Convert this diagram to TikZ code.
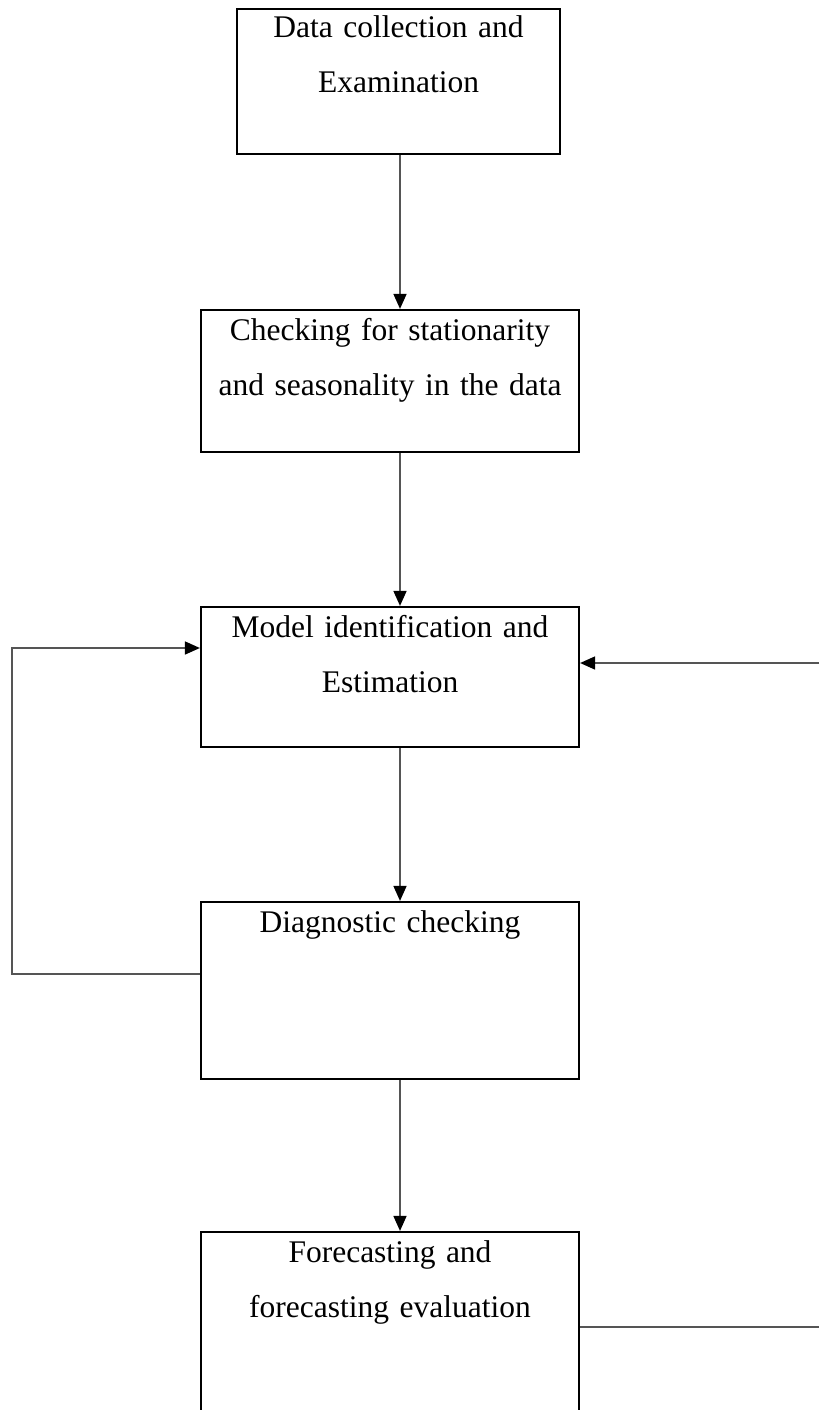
\documentclass[tikz,border=0pt]{standalone}
\usepackage{fontspec}
\setmainfont{Liberation Serif}
\usetikzlibrary{arrows.meta}
\definecolor{conngray}{RGB}{85,85,85}
\begin{document}
\begin{tikzpicture}[x=1pt,y=-1pt,
  procbox/.style={draw=black,line width=2.2pt,rectangle,inner sep=0pt},
  txt/.style={anchor=base,text width=370pt,align=center,inner sep=0pt,
    font=\fontsize{31.5}{55}\selectfont},
  conn/.style={draw=conngray,line width=1.6pt},
  arr/.style={-{Triangle[length=15pt,width=13pt,black]}}]
\useasboundingbox (0,0) rectangle (819,1410);
\clip (0,0) rectangle (819,1410);
% boxes
\node[procbox,minimum width=323pt,minimum height=145pt] (b1) at (398.5,81.5) {};
\node[procbox,minimum width=378pt,minimum height=142pt] (b2) at (390,381) {};
\node[procbox,minimum width=378pt,minimum height=140pt] (b3) at (390,677) {};
\node[procbox,minimum width=378pt,minimum height=177pt] (b4) at (390,990.5) {};
\node[procbox,minimum width=378pt,minimum height=188pt] (b5) at (390,1326) {};
% texts
\node[txt] (t1) at (398.5,38) {Data collection and\\Examination};
\node[txt] (t2) at (390,340) {Checking for stationarity\\and seasonality in the data};
\node[txt] (t3) at (390,637) {Model identification and\\Estimation};
\node[txt] (t4) at (390,932) {Diagnostic checking};
\node[txt] (t5) at (390,1262) {Forecasting and\\forecasting evaluation};
% helper coordinates
\coordinate (ax) at (400,0);
\coordinate (L1) at (12,974);
\coordinate (L2) at (12,648);
\coordinate (R1) at (819,663);
\coordinate (R2) at (819,1327);
% connectors
\draw[conn,arr] (b1.south -| ax) -- (b2.north -| ax);
\draw[conn,arr] (b2.south -| ax) -- (b3.north -| ax);
\draw[conn,arr] (b3.south -| ax) -- (b4.north -| ax);
\draw[conn,arr] (b4.south -| ax) -- (b5.north -| ax);
\draw[conn,arr] (L1 -| b4.west) -- (L1) -- (L2) -- (L2 -| b3.west);
\draw[conn,arr] (R1) -- (R1 -| b3.east);
\draw[conn] (R2 -| b5.east) -- (R2);
\end{tikzpicture}
\end{document}
